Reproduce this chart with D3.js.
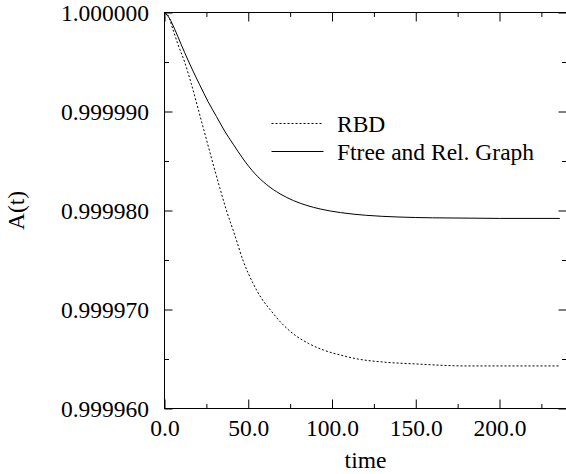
<!DOCTYPE html>
<html>
<head>
<meta charset="utf-8">
<script src="https://cdn.jsdelivr.net/npm/d3@7"></script>
</head>
<body style="margin:0">
<script>
// ---- data ----
const rbdTime = [0, 2, 5, 8, 12, 16, 20.5, 25, 29, 33, 37, 42, 47, 53, 58, 63, 70, 78, 86, 95, 105, 115, 130, 150, 180, 210, 236];
const rbdValue = [1.0000000, 0.99999975, 0.9999983, 0.9999968, 0.9999950, 0.9999928, 0.9999900, 0.9999872, 0.9999847,
  0.9999823, 0.9999800, 0.9999775, 0.9999749, 0.9999726, 0.9999711, 0.9999700, 0.9999686, 0.9999674, 0.99996657,
  0.9999659, 0.9999654, 0.99996501, 0.9999647, 0.9999645, 0.9999643, 0.9999643, 0.9999643];

const ftreeTime = [0, 3, 6, 10, 14, 17, 21, 26, 31, 36, 41, 47, 54, 61, 69, 77, 85, 93, 105, 120, 140, 160, 180, 200, 220, 236];
const ftreeValue = [1.0000000, 0.9999994, 0.99999835, 0.99999675, 0.9999952, 0.9999941, 0.9999927, 0.9999910, 0.9999895,
  0.9999880, 0.9999867, 0.9999852, 0.99998372, 0.99998261, 0.99998168, 0.9999810, 0.99998051, 0.99998015, 0.99997979,
  0.99997952, 0.99997934, 0.99997926, 0.99997923, 0.9999792, 0.9999792, 0.9999792];

const seriesNames = ["RBD", "Ftree and Rel. Graph"];
const xMajorTicks = [0, 50, 100, 150, 200];
const xMinorTicks = [25, 75, 125, 175, 225];
const yMajorTicks = [0.99996, 0.99997, 0.99998, 0.99999, 1.0];
const yMinorTicks = [0.999965, 0.999975, 0.999985, 0.999995];
const xTitle = "time";
const yTitle = "A(t)";

// ---- layout ----
const W = 566, H = 474;
const pL = 164.5, pR = 566.5, pT = 12.5, pB = 408.5;
const fontSize = 23.5;

const svg = d3.select("body").append("svg").attr("width", W).attr("height", H)
  .attr("font-family", "Liberation Serif");

const x = d3.scaleLinear().domain([0, 240]).range([pL, pR]);
const y = d3.scaleLinear().domain([0.99996, 1.0]).range([pB, pT]);

function setFont(sel) {
  sel.attr("font-family", "Liberation Serif").attr("font-size", fontSize)
    .style("font-family", '"Liberation Serif"');
}

function styleAxis(g) {
  g.attr("font-family", "Liberation Serif").attr("font-size", fontSize);
  g.select(".domain").remove();
  g.selectAll(".tick line").attr("stroke", "#000").attr("stroke-width", 1);
  g.selectAll(".tick text").call(setFont).attr("fill", "#000");
}

// frame
svg.append("rect").attr("x", pL).attr("y", pT).attr("width", pR - pL).attr("height", pB - pT)
  .attr("fill", "none").attr("stroke", "#000").attr("stroke-width", 1);

// left axis
svg.append("g").attr("transform", `translate(${pL},0)`)
  .call(d3.axisLeft(y).tickValues(yMajorTicks).tickSize(-8).tickPadding(15.5).tickFormat(d3.format(".6f")))
  .call(styleAxis);
svg.append("g").attr("transform", `translate(${pL},0)`)
  .call(d3.axisLeft(y).tickValues(yMinorTicks).tickSize(-4.5).tickFormat(""))
  .call(styleAxis);
// right axis
svg.append("g").attr("transform", `translate(${pR},0)`)
  .call(d3.axisRight(y).tickValues(yMajorTicks).tickSize(-8).tickFormat(""))
  .call(styleAxis);
svg.append("g").attr("transform", `translate(${pR},0)`)
  .call(d3.axisRight(y).tickValues(yMinorTicks).tickSize(-4.5).tickFormat(""))
  .call(styleAxis);
// bottom axis
svg.append("g").attr("transform", `translate(0,${pB})`)
  .call(d3.axisBottom(x).tickValues(xMajorTicks).tickSize(-9).tickPadding(11).tickFormat(d3.format(".1f")))
  .call(styleAxis);
svg.append("g").attr("transform", `translate(0,${pB})`)
  .call(d3.axisBottom(x).tickValues(xMinorTicks).tickSize(-4.5).tickFormat(""))
  .call(styleAxis);
// top axis
svg.append("g").attr("transform", `translate(0,${pT})`)
  .call(d3.axisTop(x).tickValues(xMajorTicks).tickSize(-9).tickFormat(""))
  .call(styleAxis);
svg.append("g").attr("transform", `translate(0,${pT})`)
  .call(d3.axisTop(x).tickValues(xMinorTicks).tickSize(-4.5).tickFormat(""))
  .call(styleAxis);

// titles
svg.append("text").attr("x", (pL + pR) / 2).attr("y", 468).attr("text-anchor", "middle")
  .call(setFont).text(xTitle);
svg.append("text").attr("transform", `translate(24,${(pT + pB) / 2}) rotate(-90)`).attr("text-anchor", "middle")
  .call(setFont).text(yTitle);

// lines
const line = d3.line().x(d => x(d[0])).y(d => y(d[1])).curve(d3.curveMonotoneX);
const rbd = rbdTime.map((t, i) => [t, rbdValue[i]]);
const ftree = ftreeTime.map((t, i) => [t, ftreeValue[i]]);

svg.append("path").datum(rbd).attr("d", line).attr("fill", "none").attr("stroke", "#000")
  .attr("stroke-width", 1).attr("stroke-dasharray", "2,2");
svg.append("path").datum(ftree).attr("d", line).attr("fill", "none").attr("stroke", "#000")
  .attr("stroke-width", 1);

// legend
const legend = svg.append("g");
const legY = [123.5, 151.5];
const dashes = ["2,2", null];
seriesNames.forEach((name, i) => {
  legend.append("line").attr("x1", 271.5).attr("x2", 323.5).attr("y1", legY[i]).attr("y2", legY[i])
    .attr("stroke", "#000").attr("stroke-width", 1).attr("stroke-dasharray", dashes[i]);
  legend.append("text").attr("x", 337).attr("y", legY[i] + 8.3).call(setFont).text(name);
});
</script>
</body>
</html>
